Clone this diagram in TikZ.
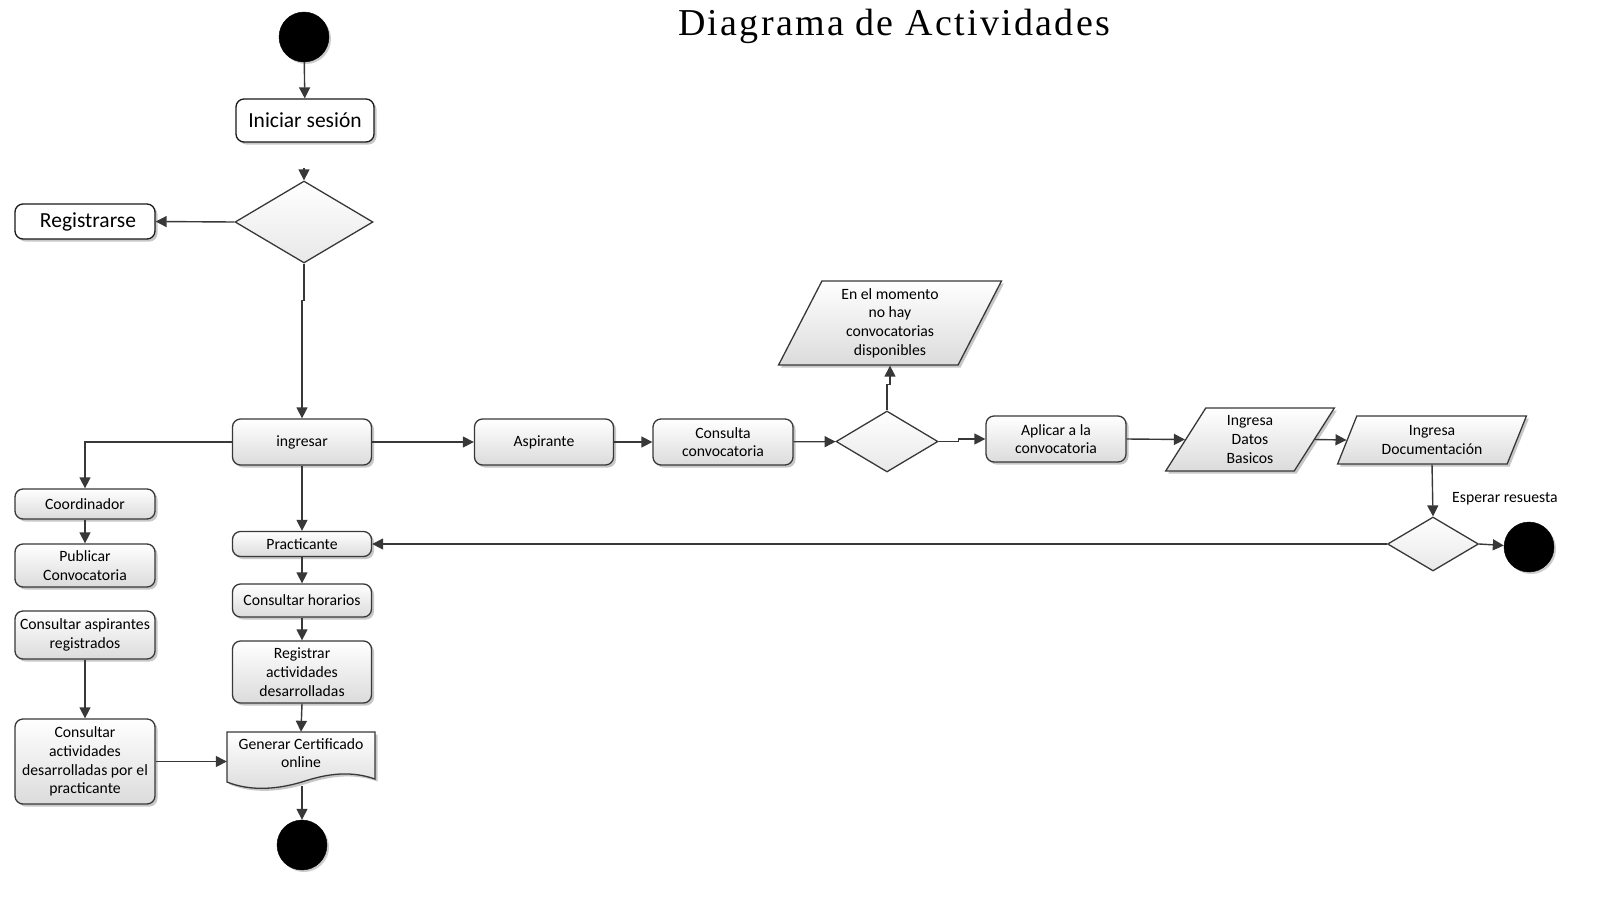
\documentclass[tikz,border=0pt]{standalone}
\usepackage{fontspec}
\setmainfont{Carlito}
\newfontfamily\titlefont[LetterSpace=6]{Liberation Serif}
\usetikzlibrary{arrows.meta,shapes.geometric,shadows,calc}
\begin{document}
\begin{tikzpicture}[x=1pt,y=-1pt,
  conn/.style={draw=black!78, line width=1.4pt},
  arr/.style={conn, -{Triangle[length=11pt,width=11pt]}},
  shad/.style={drop shadow={shadow xshift=2.5pt, shadow yshift=-2.5pt, opacity=0.22, fill=black}},
  grad/.style={top color=white, bottom color=black!14},
  act/.style={rectangle, rounded corners=8pt, draw=black!78, line width=1.3pt, grad, shad,
    align=center, font=\fontsize{15.7}{18.7}\selectfont, inner sep=1pt},
  bigact/.style={rectangle, rounded corners=8pt, draw=black!90, line width=1.3pt, fill=white,
    shad, align=center, font=\fontsize{21.5}{24}\selectfont, inner sep=2pt},
  dec/.style={diamond, draw=black!78, line width=1.3pt, top color=white, bottom color=black!9, inner sep=0pt},
  para/.style={trapezium, trapezium left angle=66, trapezium right angle=114, trapezium stretches=true,
    draw=black!78, line width=1.3pt, grad, shad, align=center, font=\fontsize{15.7}{18.7}\selectfont, inner sep=0pt},
  endpt/.style={circle, fill=black, draw=black, minimum size=50pt, inner sep=0pt,
    drop shadow={shadow xshift=2pt, shadow yshift=-2pt, opacity=0.2, fill=black}},
  lbl/.style={font=\fontsize{15.7}{18.7}\selectfont, inner sep=0pt}
]
\useasboundingbox (0,0) rectangle (1598,900);

\node[font=\titlefont\fontsize{38}{42}\selectfont] (title) at (894,26) {Diagrama de Actividades};

% left column / top
\node[endpt] (start) at (304,37) {};
\node[bigact, minimum width=138pt, minimum height=43pt] (ini) at (305,120.5) {Iniciar sesión};
\node[dec, minimum width=138pt, minimum height=82pt] (d1) at (304,222) {};
\node[bigact, minimum width=140pt, minimum height=35pt] (reg) at (85,221.5) {\hspace{6pt}Registrarse};
\coordinate (d1in) at (304,168);

\node[act, minimum width=139pt, minimum height=46pt] (ing) at (302,442) {ingresar};
\node[act, minimum width=140pt, minimum height=30pt] (coord) at (85,504) {Coordinador};
\node[act, minimum width=140pt, minimum height=43pt] (pub) at (85,565.5) {Publicar\\Convocatoria};
\node[act, minimum width=140pt, minimum height=48pt] (casp) at (85,635) {Consultar aspirantes\\registrados};
\node[act, minimum width=140pt, minimum height=85pt] (cact) at (85,761.5) {Consultar\\actividades\\desarrolladas por el\\practicante};

\node[act, minimum width=139pt, minimum height=25pt] (prac) at (302,544) {Practicante};
\node[act, minimum width=139pt, minimum height=33pt] (hor) at (302,600.5) {Consultar horarios};
\node[act, minimum width=139pt, minimum height=62pt] (regact) at (302,672) {Registrar\\actividades\\desarrolladas};

% document shape
\path[draw=black!78, line width=1.3pt, grad, shad]
  (227,732) -- (375,732) -- (375,779) .. controls (352,771) and (330,773) .. (305,781)
  .. controls (280,789) and (252,792) .. (227,782) -- cycle;
\node[lbl, align=center, minimum width=148pt, minimum height=42pt] (gen) at (301,753) {Generar Certificado\\online};
\coordinate (genb) at (302,786);
\node[endpt] (end1) at (302,845) {};

% right branch
\node[act, minimum width=139pt, minimum height=46pt] (asp) at (544,442) {Aspirante};
\node[act, minimum width=140pt, minimum height=46pt] (ccon) at (723,442) {Consulta\\convocatoria};
\node[dec, minimum width=102pt, minimum height=61pt] (d2) at (887,441.5) {};
\node[para, minimum width=223pt, minimum height=84pt] (nomom) at (890,323) {En el momento\\no hay\\convocatorias\\disponibles};
\node[act, minimum width=140pt, minimum height=46pt] (apl) at (1056,439) {Aplicar a la\\convocatoria};
\node[para, minimum width=169pt, minimum height=63pt] (datos) at (1250,439.5) {Ingresa\\Datos\\Basicos};
\node[para, minimum width=189pt, minimum height=48pt] (doc) at (1432,440) {Ingresa\\Documentación};
\node[dec, minimum width=91pt, minimum height=54pt] (d3) at (1433,544) {};
\node[endpt] (end2) at (1529,547) {};
\node[lbl, anchor=west] (esp) at (1452,499) {Esperar resuesta};

% connectors
\draw[arr] (start) -- (ini);
\draw[arr] (d1in) -- (d1.north);
\draw[arr] (d1.west) -- (reg.east);
\draw[arr] (d1.south) -- ++(0,37) -| (ing.north);
\draw[arr] (ing.west) -| (coord.north);
\draw[arr] (coord) -- (pub);
\draw[arr] (casp) -- (cact);
\draw[arr] (cact.east) -- (cact.east -| gen.west);
\draw[arr] (ing) -- (prac);
\draw[arr] (prac) -- (hor);
\draw[arr] (hor) -- (regact);
\draw[arr] (regact.south) -- (gen.north);
\draw[arr] (genb) -- (end1);

\draw[arr] (ing) -- (asp);
\draw[arr] (asp) -- (ccon);
\draw[arr] (ccon) -- (d2);
\draw[arr] (d2.north) -- ++(0,-26) -| (nomom.south);
\draw[arr] (d2.east) -- ++(20,0) |- (apl.west);
\draw[arr] (apl.east) -- (datos.west);
\draw[arr] (datos.east) -- (doc.west);
\draw[arr] (doc.south) -- (d3.north);
\draw[arr] (d3.east) -- (end2);
\draw[arr] (d3.west) -- (prac.east);
\end{tikzpicture}
\end{document}
